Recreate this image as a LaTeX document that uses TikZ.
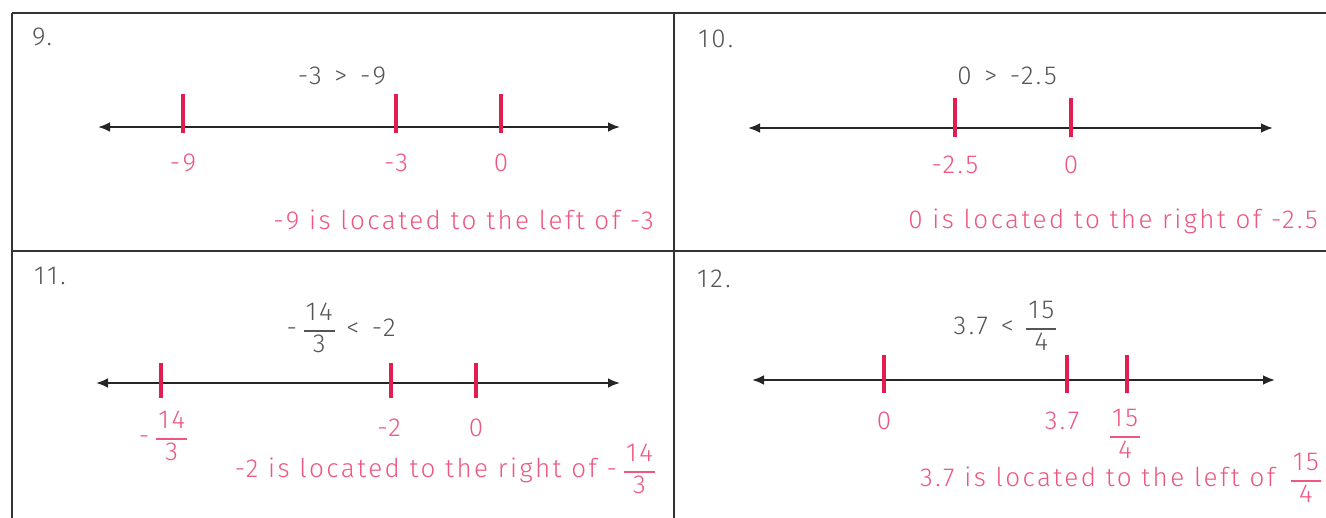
\documentclass[tikz,border=0pt]{standalone}
\usepackage{fontspec}
\setmainfont{Fira Sans}[UprightFont={* Light}, LetterSpace=9.5]
\usetikzlibrary{arrows.meta}
\definecolor{tickred}{RGB}{226,30,80}
\definecolor{pinktxt}{RGB}{238,88,128}
\definecolor{graytxt}{RGB}{85,85,85}
\setlength{\arrayrulewidth}{1.6pt}
\newcommand{\myfr}[2]{\ensuremath{\vcenter{\hbox{\begin{tabular}{@{\hspace{2pt}}c@{\hspace{2pt}}}#1\\\hline #2\end{tabular}}}}}
\begin{document}
\begin{tikzpicture}[x=1pt,y=-1pt,
  frame/.style={draw=black!80, line width=1.8pt},
  nline/.style={draw=black!85, line width=2.6pt, {Latex[length=12pt,width=10pt]}-{Latex[length=12pt,width=10pt]}},
  tk/.style={fill=tickred, inner sep=0pt, minimum width=3.8pt, draw=none},
  lab/.style={inner sep=0pt, anchor=base, text=pinktxt, font=\fontsize{26}{30}\selectfont},
  ineq/.style={inner sep=0pt, anchor=base, text=graytxt, font=\fontsize{26}{30}\selectfont},
  sent/.style={inner sep=0pt, anchor=base east, text=pinktxt, font=\fontsize{26}{30}\selectfont},
  num/.style={inner sep=0pt, anchor=base west, text=graytxt, font=\fontsize{26}{32}\selectfont}]
\useasboundingbox (0,0) rectangle (1326,518);
\fill[white] (0,0) rectangle (1326,518);
% frame
\draw[frame] (12,13) -- (1326,13);
\draw[frame] (12,13) -- (12,518);
\draw[frame] (674,13) -- (674,518);
\draw[frame] (12,251) -- (1326,251);
% panel numbers
\node[num] (n9) at (32,46) {9.};
\node[num] (n10) at (698,48) {10.};
\node[num] (n11) at (34,285) {11.};
\node[num] (n12) at (697,288) {12.};
% ---------- panel 9
\node[ineq] (q9) at (342,85) {-3\hspace{3pt} >\hspace{3pt} -9};
\coordinate (a9) at (98,127); \coordinate (b9) at (620,127);
\draw[nline] (a9) -- (b9);
\node[tk, minimum height=39pt] (t9a) at (183,113.5) {};
\node[tk, minimum height=39pt] (t9b) at (396,113.5) {};
\node[tk, minimum height=39pt] (t9c) at (501,113.5) {};
\node[lab] (l9a) at (183,172) {-9};
\node[lab] (l9b) at (396,172) {-3};
\node[lab] (l9c) at (501,172) {0};
\node[sent] (s9) at (654,230) {-9 is located to the left of -3};
% ---------- panel 10
\node[ineq] (q10) at (1007,85) {0\hspace{3pt} >\hspace{3pt} -2.5};
\coordinate (a10) at (748,128); \coordinate (b10) at (1273,128);
\draw[nline] (a10) -- (b10);
\node[tk, minimum height=39pt] (t10a) at (955,117.5) {};
\node[tk, minimum height=39pt] (t10b) at (1071,117.5) {};
\node[lab] (l10a) at (955,174) {-2.5};
\node[lab] (l10b) at (1071,174) {0};
\node[sent] (s10) at (1318,229) {0 is located to the right of -2.5};
% ---------- panel 11
\node[ineq] (q11) at (341,337) {-\hspace{7pt}\myfr{14}{3}\hspace{2pt} <\hspace{3pt} -2};
\coordinate (a11) at (96,383); \coordinate (b11) at (620,383);
\draw[nline] (a11) -- (b11);
\node[tk, minimum height=35pt] (t11a) at (161,380.5) {};
\node[tk, minimum height=35pt] (t11b) at (391,380.5) {};
\node[tk, minimum height=35pt] (t11c) at (476,380.5) {};
\node[lab] (l11a) at (163,445) {-\hspace{7pt}\myfr{14}{3}};
\node[lab] (l11b) at (389,437) {-2};
\node[lab] (l11c) at (476,437) {0};
\node[sent] (s11) at (655,478) {-2 is located to the right of -\hspace{7pt}\myfr{14}{3}};
% ---------- panel 12
\node[ineq] (q12) at (1005,335) {3.7\hspace{3pt} <\hspace{3pt} \myfr{15}{4}};
\coordinate (a12) at (752,380); \coordinate (b12) at (1275,380);
\draw[nline] (a12) -- (b12);
\node[tk, minimum height=38pt] (t12a) at (884,374) {};
\node[tk, minimum height=38pt] (t12b) at (1067,374) {};
\node[tk, minimum height=38pt] (t12c) at (1127,374) {};
\node[lab] (l12a) at (884,430) {0};
\node[lab] (l12b) at (1062,430) {3.7};
\node[lab] (l12c) at (1125,443) {\myfr{15}{4}};
\node[sent] (s12) at (1321,487) {3.7 is located to the left of\hspace{6pt} \myfr{15}{4}};
\end{tikzpicture}
\end{document}
